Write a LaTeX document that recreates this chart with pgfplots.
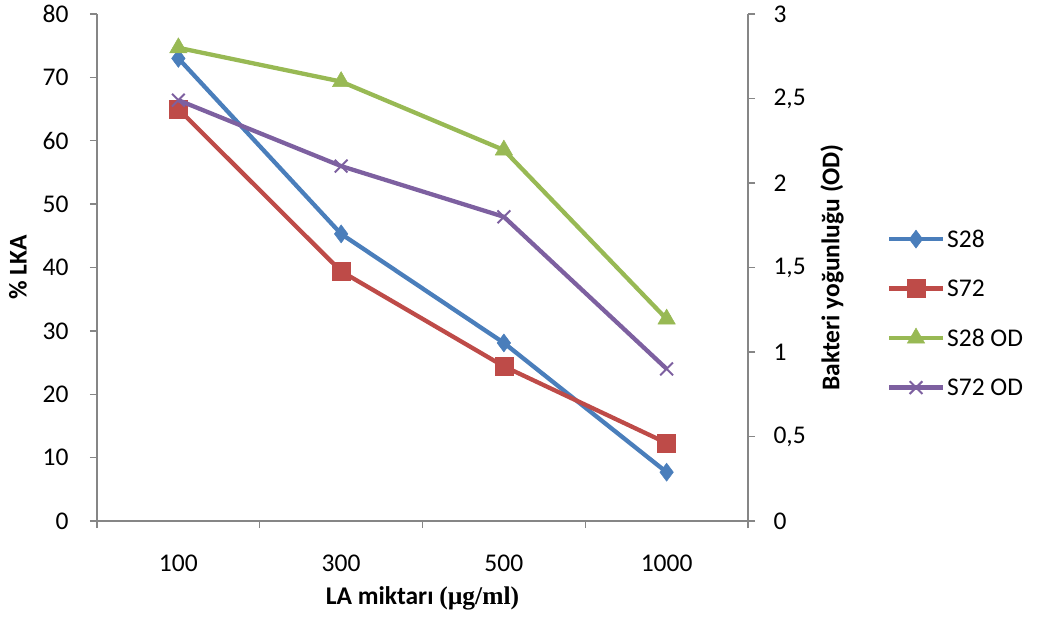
\documentclass[border=0pt]{standalone}
\usepackage{fontspec}
\setmainfont{Carlito}
\newfontfamily\serifb{Liberation Serif}
\usepackage{pgfplots}
\pgfplotsset{compat=1.18}
\definecolor{axgray}{HTML}{868686}
\definecolor{cblue}{HTML}{4A7EBB}
\definecolor{cred}{HTML}{BE4B48}
\definecolor{cgreen}{HTML}{98B954}
\definecolor{cpurple}{HTML}{7D60A0}
\pgfplotsset{
  s28/.style={color=cblue, line width=4.3pt, mark=diamond*, mark size=9pt, mark options={solid, line width=0.5pt, fill=cblue}},
  s72/.style={color=cred, line width=4.3pt, mark=square*, mark size=9pt, mark options={solid, line width=0.5pt, fill=cred}},
  s28od/.style={color=cgreen, line width=4.3pt, mark=triangle*, mark size=10pt, mark options={solid, line width=0.5pt, fill=cgreen}},
  s72od/.style={color=cpurple, line width=4.3pt, mark=x, mark size=9pt, mark options={solid, line width=2pt}},
  common/.style={scale only axis, width=651pt, height=507pt, xmin=-0.5, xmax=3.5, clip=false,
    tick align=outside, major tick length=7pt,
    tick style={draw=axgray, line width=1.3pt},
    axis line style={-, draw=axgray, line width=1.3pt},
    /pgf/number format/assume math mode=true,
    tick label style={font=\fontsize{25.5}{30}\selectfont},
    label style={font=\fontsize{25.5}{30}\selectfont\bfseries}},
}
\begin{document}
\begin{tikzpicture}[font=\fontsize{25.5}{30}\selectfont]
\begin{axis}[common,
  ymin=0, ymax=80, ytick={0,10,...,80},
  axis x line*=bottom, axis y line*=left,
  xtick={-0.5,0.5,1.5,2.5,3.5}, xticklabels={},
  extra x ticks={0,1,2,3}, extra x tick labels={100,300,500,1000},
  extra x tick style={tick style={draw=none}},
  xticklabel style={anchor=center, yshift=-35pt},
  yticklabel style={xshift=-18pt},
  xlabel={LA miktarı {\serifb\bfseries(µg/ml)}},
  xlabel style={at={(axis description cs:0.5,0)}, anchor=center, yshift=-77pt},
  ylabel={\% LKA},
  ylabel style={at={(axis description cs:0,0.5)}, anchor=center, yshift=79pt},
]
\addplot[s28] coordinates {(0,73.0) (1,45.3) (2,28.1) (3,7.7)};
\addplot[s72] coordinates {(0,65.0) (1,39.4) (2,24.4) (3,12.3)};
\end{axis}
\begin{axis}[common,
  ymin=0, ymax=3, ytick={0,0.5,...,3},
  /pgf/number format/use comma,
  axis x line=none, axis y line*=right,
  yticklabel style={xshift=15pt},
  ylabel={Bakteri yoğunluğu (OD)},
  ylabel style={at={(axis description cs:1,0.5)}, anchor=center, yshift=-84pt},
  legend style={at={(1.213,0.41)}, anchor=west, draw=none, fill=none,
    font=\fontsize{25.5}{30}\selectfont, row sep=27pt, inner sep=0pt},
  legend cell align=left,
  legend image code/.code={\draw[mark repeat=2,mark phase=2] plot coordinates {(0pt,0pt) (27pt,0pt) (54pt,0pt)};},
]
\addlegendimage{s28}
\addlegendimage{s72}
\addplot[s28od] coordinates {(0,2.80) (1,2.60) (2,2.195) (3,1.195)};
\addplot[s72od] coordinates {(0,2.49) (1,2.10) (2,1.80) (3,0.90)};
\legend{S28,S72,S28 OD,S72 OD}
\end{axis}
\pgfresetboundingbox
\path[use as bounding box] (-97pt,-98pt) rectangle (943pt,521pt);
\end{tikzpicture}
\end{document}
